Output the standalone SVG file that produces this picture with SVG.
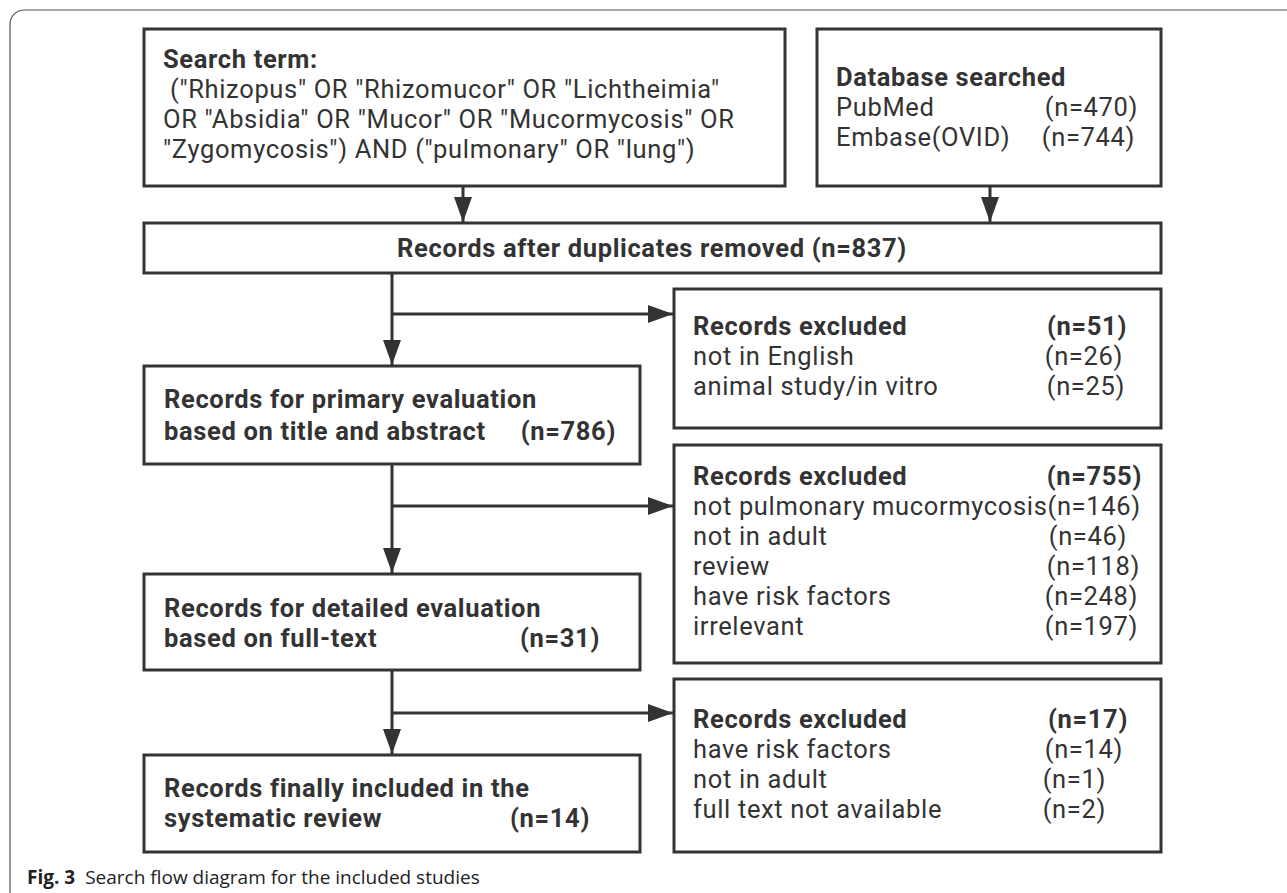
<svg xmlns="http://www.w3.org/2000/svg" width="1287" height="893" viewBox="0 0 1287 893">
<defs>
<style>
.box{fill:#fff;stroke:#333;stroke-width:3}
.t{font-family:Roboto,"Liberation Sans",sans-serif;font-size:25.5px;letter-spacing:0.65px;fill:#333}
.b{font-weight:bold}
.e{text-anchor:end}
.s{text-anchor:start}
.c{text-anchor:middle}
.ln{stroke:#333;stroke-width:3;fill:none}
.cap{font-family:"Open Sans","Noto Sans",sans-serif;font-size:19px;fill:#222}
</style>
<marker id="ah" markerWidth="25" markerHeight="18" refX="25" refY="9" orient="auto" markerUnits="userSpaceOnUse">
<path d="M0,0 L25,9 L0,18 Z" fill="#333"/>
</marker>
</defs>
<rect width="1287" height="893" fill="#fff"/>
<rect x="10" y="10" width="1300" height="900" rx="14" fill="none" stroke="#555" stroke-width="1.2"/>

<g id="connectors">
<line class="ln" x1="463" y1="187" x2="463" y2="222" marker-end="url(#ah)"/>
<line class="ln" x1="990" y1="186" x2="990" y2="222" marker-end="url(#ah)"/>
<line class="ln" x1="392" y1="273" x2="392" y2="365" marker-end="url(#ah)"/>
<line class="ln" x1="392" y1="314" x2="673" y2="314" marker-end="url(#ah)"/>
<line class="ln" x1="392" y1="464" x2="392" y2="573" marker-end="url(#ah)"/>
<line class="ln" x1="392" y1="506" x2="673" y2="506" marker-end="url(#ah)"/>
<line class="ln" x1="392" y1="670" x2="392" y2="754" marker-end="url(#ah)"/>
<line class="ln" x1="392" y1="713" x2="673" y2="713" marker-end="url(#ah)"/>
</g>

<g id="search">
<rect class="box" x="144" y="29" width="641" height="157"/>
<text class="t"><tspan class="b" x="163" y="68">Search term:</tspan><tspan x="170" y="98">("Rhizopus" OR "Rhizomucor" OR "Lichtheimia"</tspan><tspan x="163" y="128">OR "Absidia" OR "Mucor" OR "Mucormycosis" OR</tspan><tspan x="163" y="158">"Zygomycosis") AND ("pulmonary" OR "lung")</tspan></text>
</g>

<g id="database">
<rect class="box" x="817" y="29" width="344" height="157"/>
<text class="t"><tspan class="b" x="836" y="86">Database searched</tspan><tspan x="836" y="116">PubMed</tspan><tspan class="e" x="1138" y="116">(n=470)</tspan><tspan class="s" x="836" y="146">Embase(OVID)</tspan><tspan class="e" x="1135" y="146">(n=744)</tspan></text>
</g>

<g id="dedup">
<rect class="box" x="144" y="223" width="1017" height="50"/>
<text class="t b c" x="652" y="257">Records after duplicates removed (n=837)</text>
</g>

<g id="excl1">
<rect class="box" x="674" y="289" width="487" height="139"/>
<text class="t"><tspan class="b" x="693" y="335">Records excluded</tspan><tspan class="b e" x="1127" y="335">(n=51)</tspan><tspan class="s" x="693" y="365">not in English</tspan><tspan class="e" x="1123" y="365">(n=26)</tspan><tspan class="s" x="693" y="395">animal study/in vitro</tspan><tspan class="e" x="1125" y="395">(n=25)</tspan></text>
</g>

<g id="primary">
<rect class="box" x="144" y="366" width="496" height="98"/>
<text class="t b"><tspan x="164" y="408">Records for primary evaluation</tspan><tspan x="164" y="440">based on title and abstract</tspan><tspan class="e" x="616" y="440">(n=786)</tspan></text>
</g>

<g id="excl2">
<rect class="box" x="674" y="445" width="487" height="218"/>
<text class="t"><tspan class="b" x="693" y="485">Records excluded</tspan><tspan class="b e" x="1142" y="485">(n=755)</tspan><tspan class="s" x="693" y="515">not pulmonary mucormycosis(n=146)</tspan><tspan x="693" y="545">not in adult</tspan><tspan class="e" x="1127" y="545">(n=46)</tspan><tspan class="s" x="693" y="575">review</tspan><tspan class="e" x="1140" y="575">(n=118)</tspan><tspan class="s" x="693" y="605">have risk factors</tspan><tspan class="e" x="1138" y="605">(n=248)</tspan><tspan class="s" x="693" y="635">irrelevant</tspan><tspan class="e" x="1138" y="635">(n=197)</tspan></text>
</g>

<g id="detailed">
<rect class="box" x="144" y="574" width="496" height="96"/>
<text class="t b"><tspan x="164" y="617">Records for detailed evaluation</tspan><tspan x="164" y="647">based on full-text</tspan><tspan class="e" x="600" y="647">(n=31)</tspan></text>
</g>

<g id="excl3">
<rect class="box" x="674" y="679" width="487" height="173"/>
<text class="t"><tspan class="b" x="693" y="728">Records excluded</tspan><tspan class="b e" x="1128" y="728">(n=17)</tspan><tspan class="s" x="693" y="758">have risk factors</tspan><tspan class="e" x="1123" y="758">(n=14)</tspan><tspan class="s" x="693" y="788">not in adult</tspan><tspan class="e" x="1106" y="788">(n=1)</tspan><tspan class="s" x="693" y="818">full text not available</tspan><tspan class="e" x="1106" y="818">(n=2)</tspan></text>
</g>

<g id="final">
<rect class="box" x="144" y="755" width="496" height="97"/>
<text class="t b"><tspan x="164" y="797">Records finally included in the</tspan><tspan x="164" y="827">systematic review</tspan><tspan class="e" x="590" y="827">(n=14)</tspan></text>
</g>

<text class="cap" x="27" y="884"><tspan font-weight="bold">Fig. 3</tspan><tspan dx="10">Search flow diagram for the included studies</tspan></text>
</svg>
